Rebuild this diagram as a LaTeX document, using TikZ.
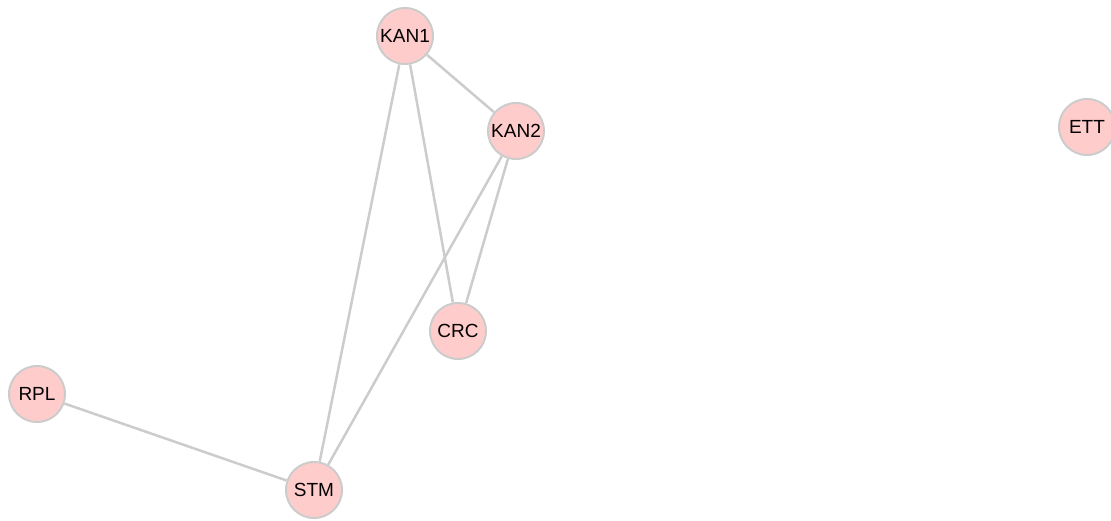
\documentclass[tikz,border=0pt]{standalone}
\usepackage{fontspec}
\setmainfont{Liberation Sans}
\definecolor{nodefill}{HTML}{FFCCCC}
\definecolor{edgegray}{HTML}{CCCCCC}
\begin{document}
\begin{tikzpicture}[x=1pt,y=-1pt,
  vertex/.style={circle,fill=nodefill,draw=edgegray,line width=2pt,
    minimum size=56pt,inner sep=0pt,font=\fontsize{19}{22}\selectfont},
  link/.style={draw=edgegray,line width=2.5pt}]
  \useasboundingbox (0,0) rectangle (1111,521);
  \node[vertex] (KAN1) at (405,36) {KAN1};
  \node[vertex] (KAN2) at (516,131) {KAN2};
  \node[vertex] (ETT) at (1087,127) {ETT};
  \node[vertex] (CRC) at (458,331) {CRC};
  \node[vertex] (RPL) at (37,394) {RPL};
  \node[vertex] (STM) at (314,490) {STM};
  \draw[link] (KAN1) -- (KAN2);
  \draw[link] (KAN1) -- (STM);
  \draw[link] (KAN1) -- (CRC);
  \draw[link] (KAN2) -- (STM);
  \draw[link] (KAN2) -- (CRC);
  \draw[link] (RPL) -- (STM);
\end{tikzpicture}
\end{document}
